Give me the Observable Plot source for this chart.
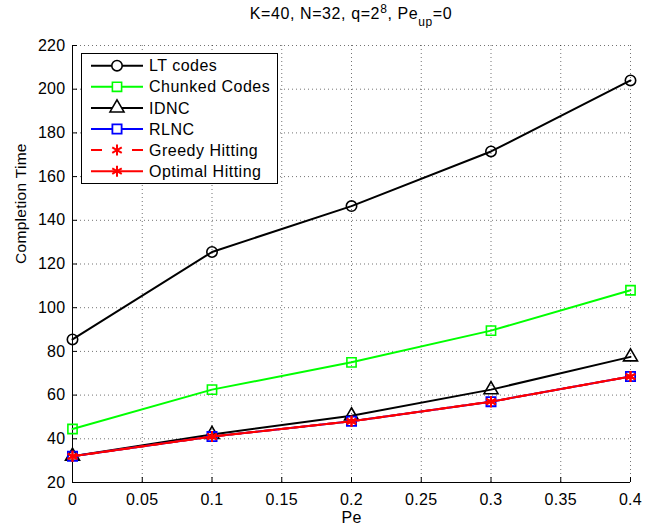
<!DOCTYPE html>
<html><head><meta charset="utf-8">
<script src="https://cdn.jsdelivr.net/npm/d3@7"></script>
<script src="https://cdn.jsdelivr.net/npm/@observablehq/plot@0.6"></script>
<style>
body{margin:0;background:#fff;font-family:"Liberation Sans",Arial,Helvetica,sans-serif;}
#wrap{position:relative;width:652px;height:527px;overflow:hidden;}
#title{position:absolute;left:72px;width:558px;top:0;height:28px;line-height:28px;text-align:center;font-size:16px;letter-spacing:0.6px;color:#000;white-space:nowrap;}
#title sup{font-size:12px;line-height:0;vertical-align:6px;}
#title sub{font-size:12px;line-height:0;vertical-align:-7px;}
#chart{position:absolute;left:0;top:28px;}
#legend{position:absolute;left:81px;top:53px;width:197px;height:131px;box-sizing:border-box;border:1px solid #000;background:#fff;}
</style></head><body>
<div id="wrap">
<div id="title">K=40, N=32, q=2<sup>8</sup>, Pe<sub>up</sub>=0</div>
<div id="chart"></div>
<div id="legend"></div>
</div>
<script>
const pe = [0, 0.1, 0.2, 0.3, 0.4];
const ltCodes = [85.5, 125.5, 146.5, 171.5, 204];
const chunkedCodes = [44.5, 62.5, 75, 89.5, 108];
const idnc = [32, 42, 50.5, 62.5, 77.5];
const rlnc = [32, 41, 48, 57, 68.5];
const greedyHitting = [32, 41, 48, 57, 68.5];
const optimalHitting = [32, 41, 48, 57, 68.5];
const xTicks = [0, 0.05, 0.1, 0.15, 0.2, 0.25, 0.3, 0.35, 0.4];
const yTicks = [20, 40, 60, 80, 100, 120, 140, 160, 180, 200, 220];
const seriesNames = ["LT codes", "Chunked Codes", "IDNC", "RLNC", "Greedy Hitting", "Optimal Hitting"];

const styles = [
  {values: ltCodes, color: "#000000", symbol: "circle", dash: null, sw: 1.6},
  {values: chunkedCodes, color: "#00ff00", symbol: "square", dash: null, sw: 1.6},
  {values: idnc, color: "#000000", symbol: "triangle", dash: null, sw: 1.6},
  {values: rlnc, color: "#0000ff", symbol: "square", dash: null, sw: 1.8},
  {values: greedyHitting, color: "#ff0000", symbol: "asterisk", dash: "10,6", sw: 2},
  {values: optimalHitting, color: "#ff0000", symbol: "asterisk", dash: null, sw: 2}
];
const R = 5.2;

const W = 652, H = 499;
const mT = 17, mB = 45, mL = 72, mR = 22;
const plotH = H - mT - mB, plotW = W - mL - mR;
const FONT = '"Liberation Sans", Arial, sans-serif';

const marks = [
  Plot.gridX(xTicks, {stroke: "#000", strokeOpacity: 0.55, strokeDasharray: "1,3"}),
  Plot.gridY(yTicks, {stroke: "#000", strokeOpacity: 0.55, strokeDasharray: "1,3"}),
  Plot.ruleX([0], {stroke: "#000", strokeWidth: 1}),
  Plot.ruleY([20], {stroke: "#000", strokeWidth: 1}),
  Plot.tickX(xTicks, {x: d => d, insetTop: plotH - 5, stroke: "#000"}),
  Plot.tickY(yTicks, {y: d => d, insetRight: plotW - 5, stroke: "#000"}),
  Plot.axisX({ticks: xTicks, tickSize: 0, tickPadding: 11, label: null, fontSize: 16, tickFormat: d => String(+d.toFixed(2))}),
  Plot.axisY({ticks: yTicks, tickSize: 0, tickPadding: 7, label: null, fontSize: 16}),
  Plot.text(["Pe"], {frameAnchor: "bottom", lineAnchor: "top", dy: 29, fontSize: 16}),
  Plot.text(["Completion Time"], {frameAnchor: "left", dx: -51, rotate: -90, fontSize: 15.5})
];

styles.forEach((s, i) => {
  const rows = pe.map((x, j) => ({x, y: s.values[j], name: seriesNames[i]}));
  marks.push(Plot.line(rows, {x: "x", y: "y", stroke: s.color, strokeWidth: 2, strokeDasharray: s.dash}));
  marks.push(Plot.dot(rows, {x: "x", y: "y", symbol: () => s.symbol, r: R, stroke: s.color, fill: "none", strokeWidth: s.sw}));
});

const chart = Plot.plot({
  width: W, height: H,
  marginTop: mT, marginBottom: mB, marginLeft: mL, marginRight: mR,
  x: {domain: [0, 0.4]},
  y: {domain: [20, 220]},
  symbol: {type: "identity"},
  style: {fontFamily: FONT, fontSize: "16px", color: "#000", background: "#fff", letterSpacing: "0.3px"},
  marks
});
document.getElementById("chart").appendChild(chart);

// legend
const lg = d3.select("#legend").append("svg").attr("width", 195).attr("height", 129)
  .style("font-family", FONT).style("font-size", "16px").style("letter-spacing", "0.5px");
const symMap = {circle: d3.symbolCircle, square: d3.symbolSquare, triangle: d3.symbolTriangle, asterisk: d3.symbolAsterisk};
styles.forEach((s, i) => {
  const y = 11.7 + i * 21.1;
  const g = lg.append("g").attr("transform", `translate(0,${y})`);
  g.append("line").attr("x1", 9).attr("x2", 61).attr("y1", 0).attr("y2", 0)
    .attr("stroke", s.color).attr("stroke-width", 2).attr("stroke-dasharray", s.dash ? "11,30,11" : null);
  g.append("path").attr("transform", "translate(35,0)")
    .attr("d", d3.symbol(symMap[s.symbol], Math.PI * R * R)())
    .attr("fill", s.symbol === "asterisk" ? "none" : "#fff").attr("stroke", s.color).attr("stroke-width", s.sw);
  g.append("text").attr("x", 67).attr("y", 0).attr("dy", "0.35em").attr("fill", "#000").text(seriesNames[i]);
});
</script>
</body></html>
